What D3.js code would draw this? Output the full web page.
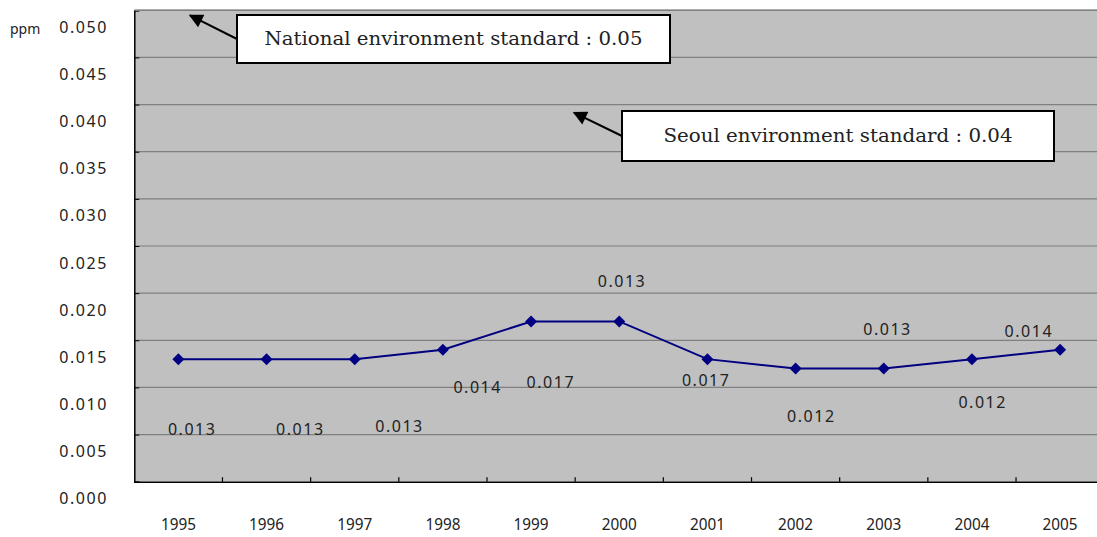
<!DOCTYPE html>
<html><head><meta charset="utf-8">
<script src="https://cdn.jsdelivr.net/npm/d3@7"></script>
<style>
html,body{margin:0;padding:0;background:#fff;}
svg{display:block;}
</style></head>
<body>
<svg id="chart" width="1097" height="537"></svg>
<script>
// ---- data ----
const years = ["1995","1996","1997","1998","1999","2000","2001","2002","2003","2004","2005"];
const values = [0.013,0.013,0.013,0.014,0.017,0.017,0.013,0.012,0.012,0.013,0.014];
const labelTexts = ["0.013","0.013","0.013","0.014","0.017","0.013","0.017","0.012","0.013","0.012","0.014"];
const yTicks = [0,0.005,0.010,0.015,0.020,0.025,0.030,0.035,0.040,0.045,0.050];
const yTickLabels = ["0.000","0.005","0.010","0.015","0.020","0.025","0.030","0.035","0.040","0.045","0.050"];
const unitLabel = "ppm";
const standardTexts = ["National environment standard : 0.05","Seoul environment standard : 0.04"];
const standardValues = [0.05, 0.04];

// ---- layout (not data) ----
const labelOffsets = [[13,70],[33,70],[44,67],[34,38],[19,61],[2,-40],[-2,21],[15,48],[3,-39],[10,43],[-32,-18]];
const boxes = [
  {x:237, y:15, w:433, h:48, tw:378, tipDy:5, tipX:190, fromY:39},
  {x:622, y:111, w:432, h:50, tw:349, tipDy:8, tipX:574, fromY:136}
];

const svg = d3.select("#chart");
const mLeft = 134.3, mRight = 1104.2, mTop = 10.3, mBottom = 481.7;

const x = d3.scaleBand().domain(years).range([mLeft, mRight]).padding(0);
const y = d3.scaleLinear().domain([0, 0.05]).range([mBottom, mTop]);

const defs = svg.append("defs");
defs.append("marker").attr("id","arrow").attr("viewBox","0 0 10 10")
  .attr("refX",9).attr("refY",5).attr("markerWidth",17).attr("markerHeight",14)
  .attr("markerUnits","userSpaceOnUse").attr("orient","auto")
  .append("path").attr("d","M0,0 L10,5 L0,10 Z").attr("fill","#000");

// plot background
svg.append("rect").attr("x",mLeft).attr("y",mTop).attr("width",mRight-mLeft).attr("height",mBottom-mTop)
  .attr("fill","#c0c0c0");

// gridlines
svg.append("g").selectAll("line").data(yTicks.filter(d=>d>0)).join("line")
  .attr("x1",mLeft).attr("x2",mRight)
  .attr("y1",d=>y(d)).attr("y2",d=>y(d))
  .attr("stroke","#7f7f7f").attr("stroke-width",1.2);

// y axis
const yAxis = d3.axisLeft(y).tickValues(yTicks).tickSize(-5).tickFormat((d,i)=>yTickLabels[i]);
const gy = svg.append("g").attr("transform",`translate(${mLeft},0)`).call(yAxis);
gy.select(".domain").attr("stroke","#000").attr("stroke-width",1.5);
gy.selectAll(".tick line").attr("stroke","#000");
gy.selectAll(".tick text")
  .attr("x",-28).attr("dy","0.35em").attr("y",16.5)
  .attr("text-anchor","end")
  .attr("font-family","'Noto Sans', 'DejaVu Sans', sans-serif")
  .attr("font-size",16).attr("fill","#222")
  .attr("textLength",47).attr("lengthAdjust","spacing");

// x axis
const xAxis = d3.axisBottom(x).tickSize(0).tickPadding(0);
const gx = svg.append("g").attr("transform",`translate(0,${mBottom})`).call(xAxis);
gx.select(".domain").attr("stroke","#000").attr("stroke-width",1.5);
gx.selectAll(".tick text")
  .attr("y",42).attr("dy","0.35em")
  .attr("font-family","'Noto Sans', 'DejaVu Sans', sans-serif")
  .attr("font-size",17).attr("fill","#222")
  .attr("textLength",35).attr("lengthAdjust","spacingAndGlyphs");
// inner tick marks at category boundaries
svg.append("g").selectAll("line").data(years.slice(1)).join("line")
  .attr("x1",d=>x(d)).attr("x2",d=>x(d))
  .attr("y1",mBottom).attr("y2",mBottom-4.5)
  .attr("stroke","#000").attr("stroke-width",1.2);

// top border
svg.append("line").attr("x1",mLeft).attr("x2",mRight).attr("y1",mTop).attr("y2",mTop)
  .attr("stroke","#7f7f7f").attr("stroke-width",1.5);

// unit label
svg.append("text").attr("x",10).attr("y",29).attr("dy","0.35em")
  .attr("font-family","'Noto Sans', 'DejaVu Sans', sans-serif")
  .attr("font-size",14).attr("fill","#222").text(unitLabel);

// series line
const pts = years.map((yr,i)=>({yr, v:values[i], i}));
const line = d3.line().x(d=>x(d.yr)+x.bandwidth()/2).y(d=>y(d.v));
svg.append("path").datum(pts).attr("d",line)
  .attr("fill","none").attr("stroke","#000080").attr("stroke-width",2);

svg.append("g").selectAll("path").data(pts).join("path")
  .attr("d", d3.symbol(d3.symbolSquare, 72)())
  .attr("transform",d=>`translate(${x(d.yr)+x.bandwidth()/2},${y(d.v)}) rotate(45)`)
  .attr("fill","#000080");

// data labels
svg.append("g").selectAll("text").data(pts).join("text")
  .attr("x",d=>x(d.yr)+x.bandwidth()/2+labelOffsets[d.i][0])
  .attr("y",d=>y(d.v)+labelOffsets[d.i][1])
  .attr("dy","0.35em").attr("text-anchor","middle")
  .attr("font-family","'Noto Sans', 'DejaVu Sans', sans-serif")
  .attr("font-size",16).attr("fill","#222")
  .attr("textLength",47).attr("lengthAdjust","spacing")
  .text(d=>labelTexts[d.i]);

// standard annotations
standardTexts.forEach((t,i)=>{
  const b = boxes[i];
  svg.append("line")
    .attr("x1",b.x).attr("y1",b.fromY)
    .attr("x2",b.tipX).attr("y2",y(standardValues[i])+b.tipDy)
    .attr("stroke","#000").attr("stroke-width",2)
    .attr("marker-end","url(#arrow)");
  svg.append("rect").attr("x",b.x).attr("y",b.y).attr("width",b.w).attr("height",b.h)
    .attr("fill","#fff").attr("stroke","#000").attr("stroke-width",2);
  svg.append("text").attr("x",b.x+b.w/2).attr("y",b.y+b.h/2).attr("dy","0.35em")
    .attr("text-anchor","middle")
    .attr("font-family","'DejaVu Serif', 'Liberation Serif', serif")
    .attr("font-size",18).attr("fill","#222")
    .attr("textLength",b.tw).attr("lengthAdjust","spacingAndGlyphs")
    .text(t);
});
</script>
</body></html>
